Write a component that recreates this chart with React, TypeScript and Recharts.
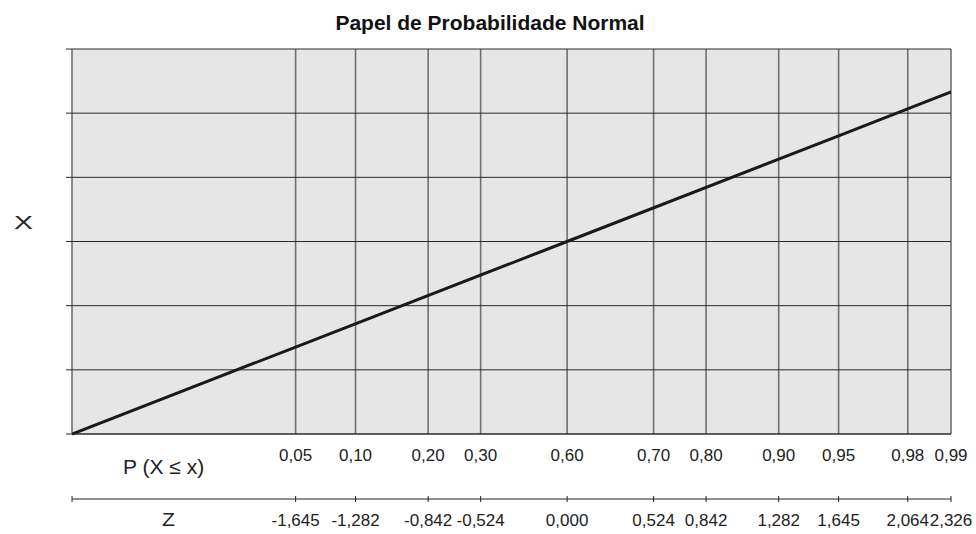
import { ComposedChart, Line, XAxis, YAxis, CartesianGrid, Label } from "recharts"

// z positions of the probability grid (left edge -3 has no label)
const zTicks = [-3, -1.645, -1.282, -0.842, -0.524, 0, 0.524, 0.842, 1.282, 1.645, 2.064, 2.326]
const pLabels = ["", "0,05", "0,10", "0,20", "0,30", "0,60", "0,70", "0,80", "0,90", "0,95", "0,98", "0,99"]
const zLabels = ["", "-1,645", "-1,282", "-0,842", "-0,524", "0,000", "0,524", "0,842", "1,282", "1,645", "2,064", "2,326"]
const xTicks = [0, 1, 2, 3, 4, 5, 6]

// the straight line
const lineZ = [-3, -1.645, 0, 1.645, 2.326]
const lineX = [0, 1.355, 3, 4.645, 5.33]

const data = lineZ.map((z, i) => ({ z, x: lineX[i] }))

const font = "Arial, 'Liberation Sans', Helvetica, sans-serif"

function PTick(props: any) {
  const { x, y, payload } = props
  const label = pLabels[zTicks.indexOf(payload.value)]
  return (
    <text x={x} y={y + 27} textAnchor="middle" fontSize={17} fontFamily={font} fill="#222">
      {label}
    </text>
  )
}

function ZTick(props: any) {
  const { x, y, payload } = props
  const label = zLabels[zTicks.indexOf(payload.value)]
  return (
    <g>
      <line x1={x} x2={x} y1={y - 3} y2={y + 3} stroke="#222" strokeWidth={1} />
      <text x={x} y={y + 27} textAnchor="middle" fontSize={17} fontFamily={font} fill="#222">
        {label}
      </text>
    </g>
  )
}

export default function App() {
  return (
    <div style={{ position: "absolute", left: 0, top: 0, width: 976, height: 534, background: "#fff" }}>
      <div
        style={{
          position: "absolute",
          left: 0,
          top: 12,
          width: 980,
          textAlign: "center",
          fontFamily: font,
          fontWeight: "bold",
          fontSize: 21,
          lineHeight: "21px",
          color: "#111",
        }}
      >
        Papel de Probabilidade Normal
      </div>
      <ComposedChart width={976} height={534} data={data} margin={{ top: 49, right: 25, bottom: 0, left: 32 }}>
        <CartesianGrid horizontal={false} vertical={true} stroke="#707070" strokeWidth={1.6} fill="#e6e6e6" fillOpacity={1} />
        <CartesianGrid horizontal={true} vertical={false} stroke="#2a2a2a" strokeWidth={1} />
        <XAxis
          dataKey="z"
          type="number"
          domain={[-3, 2.326]}
          ticks={zTicks}
          interval={0}
          allowDataOverflow
          height={65}
          axisLine={{ stroke: "#2a2a2a", strokeWidth: 1 }}
          tickLine={false}
          tickSize={0}
          tickMargin={0}
          tick={<PTick />}
        >
          <Label
            content={(p: any) => (
              <text x={p.viewBox.x + 51} y={474} fontSize={21} fontFamily={font} fill="#222">
                P (X ≤ x)
              </text>
            )}
          />
        </XAxis>
        <XAxis
          xAxisId="z"
          dataKey="z"
          type="number"
          domain={[-3, 2.326]}
          ticks={zTicks}
          interval={0}
          allowDataOverflow
          height={35}
          axisLine={{ stroke: "#222", strokeWidth: 1 }}
          tickLine={false}
          tickSize={0}
          tickMargin={0}
          tick={<ZTick />}
        >
          <Label
            content={() => (
              <text x={168.5} y={526} textAnchor="middle" fontSize={18} fontFamily={font} fill="#222" textLength={13} lengthAdjust="spacingAndGlyphs">
                Z
              </text>
            )}
          />
        </XAxis>
        <YAxis
          type="number"
          domain={[0, 6]}
          ticks={xTicks}
          interval={0}
          width={40}
          axisLine={false}
          tickLine={{ stroke: "#2a2a2a", strokeWidth: 1 }}
          tickSize={6}
          tickFormatter={() => ""}
        >
          <Label
            content={() => (
              <text
                x={23.5}
                y={229}
                textAnchor="middle"
                fontSize={19}
                fontFamily={font}
                fill="#222"
                textLength={19}
                lengthAdjust="spacingAndGlyphs"
              >
                X
              </text>
            )}
          />
        </YAxis>
        <Line
          type="linear"
          dataKey="x"
          stroke="#1a1a1a"
          strokeWidth={3}
          dot={false}
          activeDot={false}
          isAnimationActive={false}
        />
      </ComposedChart>
    </div>
  )
}
